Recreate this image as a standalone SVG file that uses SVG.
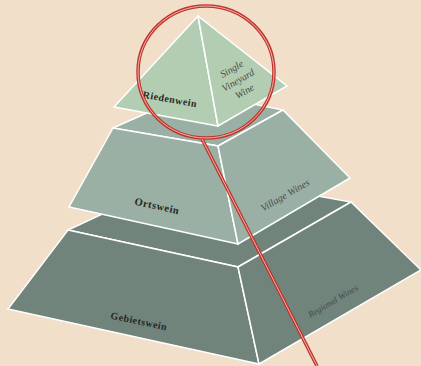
<svg xmlns="http://www.w3.org/2000/svg" width="421" height="366" viewBox="0 0 421 366">
  <style>
    .face { stroke: #ffffff; stroke-width: 1.5; stroke-linejoin: miter; }
    .t1 { fill: #b3cdb3; }
    .t2 { fill: #9ab0a5; }
    .t3 { fill: #71847c; }
    .lbl { font-family: "Liberation Serif", "DejaVu Serif", serif; font-weight: bold; font-size: 10px; fill: #262626; text-anchor: middle; letter-spacing: 0.5px; }
    .sub { font-family: "Liberation Serif", "DejaVu Serif", serif; font-style: italic; font-size: 10px; fill: #464b49; text-anchor: middle; }
    .red { fill: none; stroke: #c0342c; stroke-width: 3.5; }
    .redin { fill: none; stroke: #eeb3aa; stroke-width: 1; }
  </style>
  <rect x="0" y="0" width="421" height="366" fill="#f1dfc9"/>

  <g id="tier-bottom">
    <polygon class="face t3" points="68,230 190,173 351,202 238,267"/>
    <polygon class="face t3" points="68,230 238,267 259,364 8,309"/>
    <polygon class="face t3" points="238,267 351,202 421,270 259,364"/>
    <text class="lbl" transform="translate(139,321) rotate(12)" y="3.5">Gebietswein</text>
    <text class="sub" style="font-size:9px" transform="translate(333,301) rotate(-30)" y="3">Regional Wines</text>
  </g>

  <g id="tier-middle">
    <polygon class="face t2" points="113,128 194,92 283,110 218,146"/>
    <polygon class="face t2" points="113,128 218,146 238,244 69,207"/>
    <polygon class="face t2" points="218,146 283,110 350,178 238,244"/>
    <text class="lbl" style="font-size:10.5px" transform="translate(157,206) rotate(12.5)" y="3.5">Ortswein</text>
    <text class="sub" transform="translate(285,195) rotate(-30)" y="3.5">Village Wines</text>
  </g>

  <g id="tier-top">
    <polygon class="face t1" points="198,16 114,107 218,126"/>
    <polygon class="face t1" points="198,16 218,126 287,86"/>
    <text class="lbl" transform="translate(170,99) rotate(10)" y="3.5">Riedenwein</text>
    <g transform="translate(238,80) rotate(-30)">
      <text class="sub" y="-9.5">Single</text>
      <text class="sub" y="3.5">Vineyard</text>
      <text class="sub" y="16.5">Wine</text>
    </g>
  </g>

  <g id="connectors">
    <ellipse class="red" cx="206" cy="72" rx="68" ry="66"/>
    <ellipse class="redin" cx="206" cy="72" rx="68" ry="66"/>
    <line class="red" x1="202" y1="139" x2="317" y2="366"/>
    <line class="redin" x1="202" y1="139" x2="317" y2="366"/>
  </g>
</svg>
